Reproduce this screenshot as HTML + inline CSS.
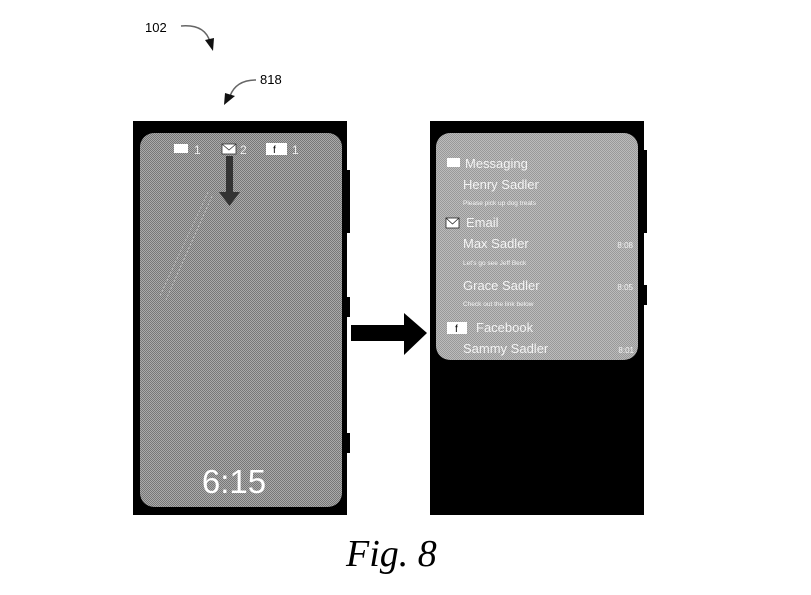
<!DOCTYPE html>
<html><head><meta charset="utf-8"><style>
html,body{margin:0;padding:0;background:#fff;width:811px;height:595px;overflow:hidden}
svg{display:block}
</style></head><body>
<svg width="811" height="595" viewBox="0 0 811 595" xmlns="http://www.w3.org/2000/svg" font-family="Liberation Sans, sans-serif">
<defs>
<pattern id="ck" width="2" height="2" patternUnits="userSpaceOnUse">
<rect width="2" height="2" fill="#aaa"/><rect width="1" height="1" fill="#777"/><rect x="1" y="1" width="1" height="1" fill="#777"/>
</pattern>
<pattern id="ck2" width="2" height="2" patternUnits="userSpaceOnUse">
<rect width="2" height="2" fill="#bbb"/><rect width="1" height="1" fill="#999"/><rect x="1" y="1" width="1" height="1" fill="#999"/>
</pattern>
</defs>
<text x="145" y="32" font-size="13" fill="#000">102</text>
<path d="M181 26 Q205 24 210 42" fill="none" stroke="#666" stroke-width="1.5"/>
<polygon points="205,40 214,38 213,51" fill="#111"/>
<text x="260" y="84" font-size="13" fill="#000">818</text>
<path d="M256 80 Q236 80 230 96" fill="none" stroke="#666" stroke-width="1.5"/>
<polygon points="225,93 235,96 224,105" fill="#111"/>
<rect x="133" y="121" width="214" height="394" fill="#000"/>
<rect x="347" y="170" width="3" height="63" fill="#000"/>
<rect x="347" y="297" width="3" height="20" fill="#000"/>
<rect x="347" y="433" width="3" height="20" fill="#000"/>
<rect x="140" y="133" width="202" height="374" rx="14" fill="url(#ck)"/>
<rect x="174" y="144" width="14" height="9" fill="#fff"/>
<text x="194" y="154" font-size="12" fill="#eee">1</text>
<rect x="222" y="144" width="14" height="10" fill="#fff" stroke="#333" stroke-width="0.8"/>
<path d="M222 144 L229 150 L236 144" fill="none" stroke="#333" stroke-width="0.8"/>
<text x="240" y="154" font-size="12" fill="#eee">2</text>
<rect x="266" y="143" width="21" height="12" fill="#fff"/>
<text x="273" y="153" font-size="10" fill="#000">f</text>
<text x="292" y="154" font-size="12" fill="#eee">1</text>
<rect x="226" y="156" width="7" height="38" fill="#333"/>
<polygon points="219,192 240,192 229.5,206" fill="#333"/>
<line x1="208" y1="192" x2="160" y2="296" stroke="#ccc" stroke-width="0.7" stroke-dasharray="2,2"/>
<line x1="212" y1="196" x2="166" y2="300" stroke="#ccc" stroke-width="0.7" stroke-dasharray="2,2"/>
<text x="234" y="493" font-size="33" fill="#fff" text-anchor="middle">6:15</text>
<rect x="351" y="325" width="54" height="16" fill="#000"/>
<polygon points="404,313 427,333 404,355" fill="#000"/>
<rect x="430" y="121" width="214" height="394" fill="#000"/>
<rect x="644" y="150" width="3" height="83" fill="#000"/>
<rect x="644" y="285" width="3" height="20" fill="#000"/>
<rect x="436" y="133" width="202" height="227" rx="14" fill="url(#ck2)"/>
<g fill="#f4f4f4">
<rect x="447" y="158" width="13" height="9" fill="#fff"/>
<text x="465" y="168" font-size="13">Messaging</text>
<text x="463" y="189" font-size="13">Henry Sadler</text>
<text x="463" y="205" font-size="6.5">Please pick up dog treats</text>
<text x="466" y="227" font-size="13">Email</text>
<text x="463" y="248" font-size="13">Max Sadler</text>
<text x="633" y="248" font-size="8" text-anchor="end">8:08</text>
<text x="463" y="265" font-size="6.5">Let's go see Jeff Beck</text>
<text x="463" y="290" font-size="13">Grace Sadler</text>
<text x="633" y="290" font-size="8" text-anchor="end">8:05</text>
<text x="463" y="306" font-size="6.5">Check out the link below</text>
<text x="476" y="332" font-size="13">Facebook</text>
<text x="463" y="353" font-size="13">Sammy Sadler</text>
<text x="634" y="353" font-size="8" text-anchor="end">8:01</text>
</g>
<rect x="446" y="218" width="13" height="10" fill="#fff" stroke="#222" stroke-width="0.8"/>
<path d="M446 218 L452.5 224 L459 218" fill="none" stroke="#222" stroke-width="0.8"/>
<rect x="447" y="322" width="20" height="12" fill="#fff"/>
<text x="455" y="332" font-size="10" fill="#000">f</text>
<text x="346" y="566" font-size="38" font-style="italic" font-family="Liberation Serif, serif" fill="#000">Fig. 8</text>
</svg>
</body></html>
